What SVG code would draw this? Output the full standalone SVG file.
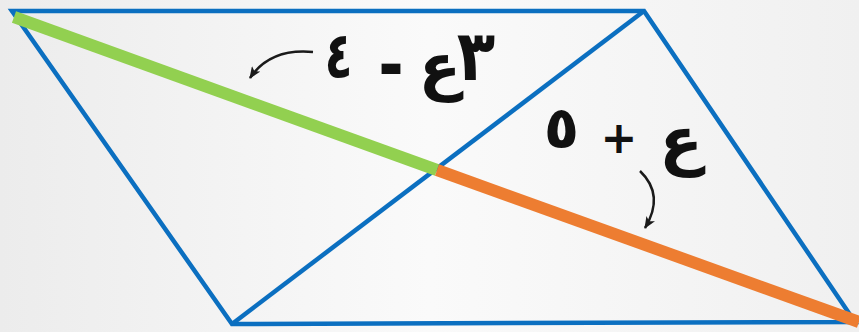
<svg xmlns="http://www.w3.org/2000/svg" width="859" height="332" viewBox="0 0 859 332">
<defs>
<linearGradient id="bg" x1="0" y1="0" x2="1" y2="0">
<stop offset="0" stop-color="#ececec"/><stop offset="0.5" stop-color="#fafafa"/><stop offset="1" stop-color="#f0f0f0"/>
</linearGradient>
<marker id="ah" viewBox="0 0 12 10" refX="11" refY="5" markerWidth="12" markerHeight="10" markerUnits="userSpaceOnUse" orient="auto">
<path d="M0,0 L12,5 L0,10 L3,5 Z" fill="#1a1a1a"/>
</marker>
<style>
.edge{stroke:#0b6fc0;stroke-width:4.5;fill:none;stroke-linejoin:miter}
.seg{stroke-width:12;fill:none}
.arr{stroke:#1a1a1a;stroke-width:2.5;fill:none;marker-end:url(#ah)}
.t{font-family:"DejaVu Sans",sans-serif;font-weight:bold;fill:#111;text-anchor:middle}
</style>
</defs>
<rect width="859" height="332" fill="url(#bg)"/>
<g id="connectors">
<path class="edge" d="M12,11 L644,11 L855,322 L232,324 Z"/>
<path class="edge" d="M232,324 L644,11"/>
<path class="seg" stroke="#92d050" d="M14,17 L437,170"/>
<path class="seg" stroke="#ed7d31" d="M437,170 L859,322"/>
<path class="arr" d="M313,52 Q270,48 250,78"/>
<path class="arr" d="M640,171 Q665,195 645,228"/>
</g>
<g id="label1">
<text class="t" transform="translate(338.5,78) scale(0.72,1)" font-size="64">٤</text>
<text class="t" transform="translate(391,91) scale(1,1.7)" font-size="48">–</text>
<text class="t" x="440" y="88" font-size="62">ع</text>
<text class="t" transform="translate(476,80) scale(0.9,1)" font-size="70">٣</text>
</g>
<g id="label2">
<text class="t" x="561.5" y="148" font-size="58">٥</text>
<text class="t" x="619" y="153" font-size="44">+</text>
<text class="t" x="681" y="162" font-size="64">ع</text>
</g>
</svg>
